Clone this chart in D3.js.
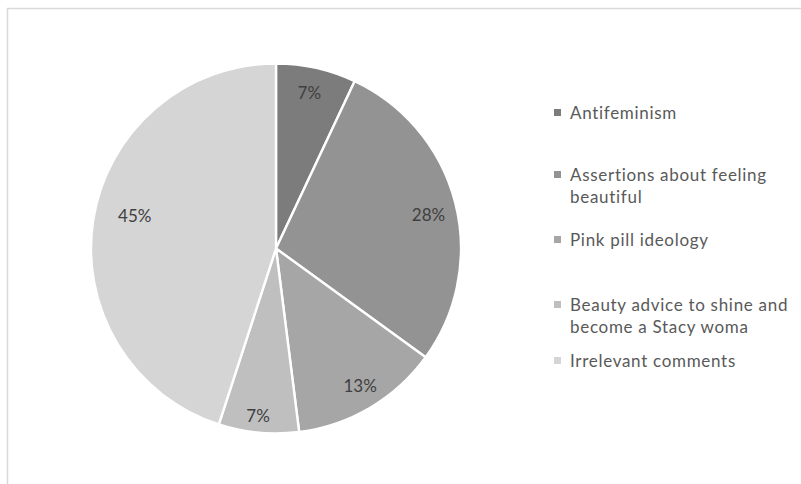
<!DOCTYPE html>
<html><head><meta charset="utf-8">
<script src="https://cdn.jsdelivr.net/npm/d3@7"></script>
<style>body{margin:0;background:#fff}svg{display:block}</style>
</head><body>
<svg id="c" width="801" height="484"></svg>
<script>
const categories = ["Antifeminism","Assertions about feeling beautiful","Pink pill ideology","Beauty advice to shine and become a Stacy woma","Irrelevant comments"];
const legendLines = [["Antifeminism"],["Assertions about feeling","beautiful"],["Pink pill ideology"],["Beauty advice to shine and","become a Stacy woma"],["Irrelevant comments"]];
const values = [7,28,13,7,45];
const colors = ["#7c7c7c","#939393","#a6a6a6","#bfbfbf","#d5d5d5"];

// layout (not data): legend baselines, label radius and angular nudge (degrees)
const legendY = [119,181,246,311,367];
const labelR = [159,156,161,169,145];
const labelShift = [-0.5,2.2,-0.9,0.7,4];

const svg = d3.select("#c");
const font = "Lato, 'Open Sans', sans-serif";
// chart frame
svg.append("path").attr("d","M7.5,484 V8.5 H801").attr("fill","none").attr("stroke","#d9d9d9").attr("stroke-width",1.5);

const cx=276, cy=248.5, R=185;
const pie = d3.pie().sort(null).value(d=>d)(values);
const arc = d3.arc().innerRadius(0).outerRadius(R);
const color = d3.scaleOrdinal().domain(d3.range(values.length)).range(colors);
const g = svg.append("g").attr("transform",`translate(${cx},${cy})`);
g.selectAll("path.s").data(pie).join("path").attr("class","s")
  .attr("d",arc).attr("fill",(d,i)=>color(i)).attr("stroke","#fff").attr("stroke-width",2.4).attr("stroke-linejoin","round");
g.selectAll("text.l").data(pie).join("text").attr("class","l")
  .attr("transform",(d,i)=>{
    const a = (d.startAngle+d.endAngle)/2 + labelShift[i]*Math.PI/180;
    return `translate(${labelR[i]*Math.sin(a)},${-labelR[i]*Math.cos(a)})`;
  })
  .attr("text-anchor","middle").attr("dy","0.35em")
  .attr("font-family",font).attr("font-size",17).attr("fill","#404040")
  .text(d=>d.value+"%");

const lg = svg.append("g");
legendLines.forEach((lines,i)=>{
  lg.append("rect").attr("x",554).attr("y",legendY[i]-10).attr("width",7).attr("height",7).attr("fill",color(i));
  const t = lg.append("text").attr("x",570).attr("y",legendY[i]).attr("font-family",font).attr("font-size",17)
    .attr("letter-spacing",0.7).attr("fill","#595959");
  lines.forEach((ln,j)=>t.append("tspan").attr("x",570).attr("dy",j?22:0).text(ln));
});
</script>
</body></html>
